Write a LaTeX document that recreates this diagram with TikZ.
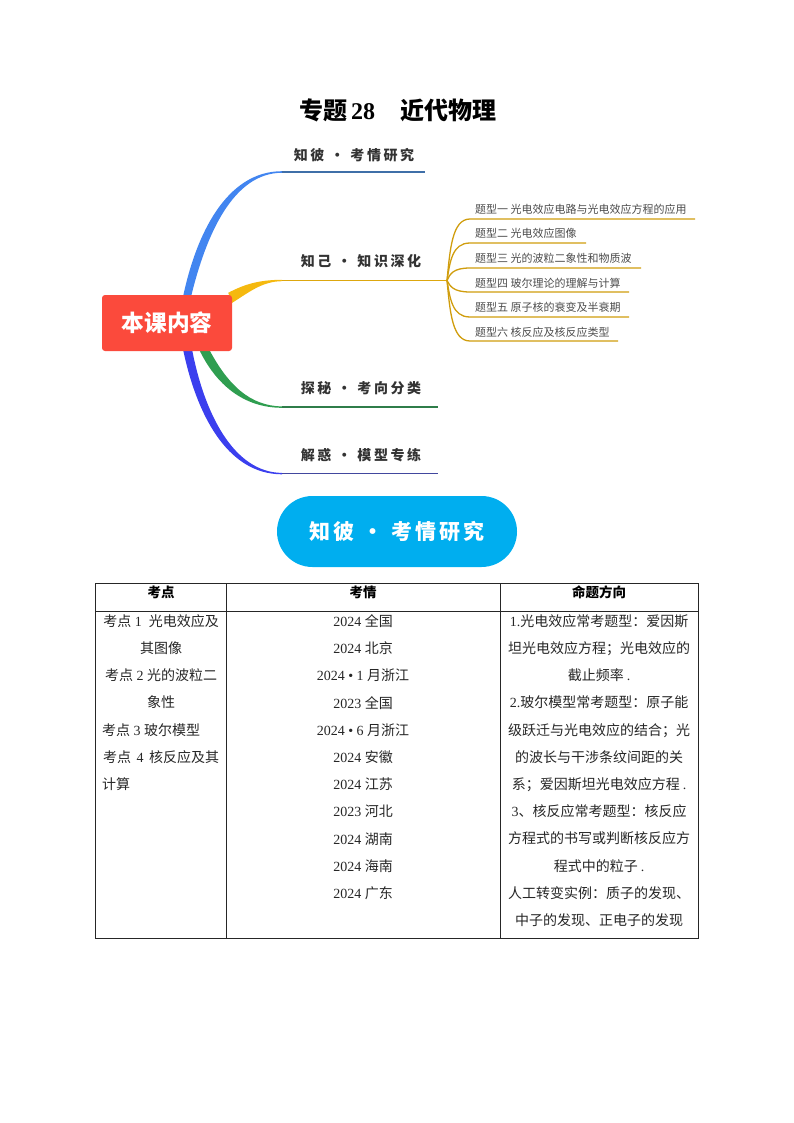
\documentclass[tikz,border=0pt]{standalone}
\usepackage{fontspec}
\setmainfont{Noto Sans CJK SC}
\newfontfamily\latinfont{Liberation Serif}
\newfontfamily\handfont[LetterSpace=18]{Noto Sans CJK SC}
\newfontfamily\pillfont[LetterSpace=14]{Noto Sans CJK SC}
\usetikzlibrary{positioning, backgrounds, calc}
\definecolor{rootred}{HTML}{FB4A3C}
\definecolor{pillblue}{HTML}{00AEEF}
\definecolor{mapblue}{HTML}{4285F0}
\definecolor{lineblue}{HTML}{3F6FA8}
\definecolor{mapyellow}{HTML}{F5B90F}
\definecolor{mapgreen}{HTML}{2F9E50}
\definecolor{linegreen}{HTML}{2F7D4A}
\definecolor{mapindigo}{HTML}{3B3FEE}
\definecolor{lineindigo}{HTML}{42479E}
\newcommand{\shu}[1]{{\latinfont #1}}
\newcommand{\gap}{\hspace{3.5pt}}
\tikzset{
  rootbox/.style={
    fill=rootred,
    rounded corners=3pt,
    minimum width=130pt,
    minimum height=56pt,
    inner sep=0pt,
    text=white,
    font=\fontsize{22.7}{26}\selectfont\bfseries
  },
  branchlabel/.style={
    inner sep=0pt,
    text=black!80,
    font=\fontsize{14}{16}\selectfont\handfont\bfseries
  },
  sublabel/.style={
    anchor=west,
    inner sep=0pt,
    text=black!70,
    font=\fontsize{11}{13}\selectfont
  },
  subline/.style={
    draw=mapyellow!85!black,
    line width=1.3pt
  },
  cellhead/.style={
    anchor=center,
    inner sep=0pt,
    font=\fontsize{13.5}{16}\selectfont\bfseries
  },
  cellbody/.style={
    anchor=north,
    inner sep=0pt,
    align=center,
    text=black!85,
    font=\fontsize{14}{27.2}\selectfont
  }
}
\begin{document}
\begin{tikzpicture}[x=1pt, y=-1pt]
    \useasboundingbox (0,0) rectangle (794,1123);
    \node[inner sep=0pt, font=\fontsize{24}{28}\selectfont\bfseries] (title) at (397.5,110) {专题\hspace{4pt}\shu{28}\hspace{25pt}近代物理};

    \node[rootbox] (root) at (167,323) {本课内容};

    % four main branches
    \coordinate (blueend) at (425,172);
    \coordinate (hub) at (447,280.5);
    \coordinate (greenend) at (438,407);
    \coordinate (indigoend) at (438,473.5);
    \begin{scope}[on background layer]
    \fill[mapblue] ($(root.north)+(16,2)$) .. controls (196,235) and (226,171.2) .. (282,171.2) -- (282,172.8) .. controls (233,172.8) and (206,235) .. ($(root.north)+(24,2)$) -- cycle;
    \draw[lineblue, line width=1.1pt] (282,172) -- (blueend);
    \fill[mapyellow] ($(root.north east)+(-4,-2)$) .. controls (243,285) and (258,279.8) .. (282,279.8) -- (282,281.2) .. controls (262,281.2) and (248,293) .. ($(root.north east)+(0,8)$) -- cycle;
    \draw[mapyellow!90!black, line width=1.2pt] (282,280.5) -- (hub);
    \fill[mapgreen] ($(root.south)+(32,-2)$) .. controls (216,385) and (244,407.8) .. (282,407.8) -- (282,406.4) .. controls (250,406) and (228,385) .. ($(root.south)+(42,-2)$) -- cycle;
    \draw[linegreen, line width=1.1pt] (282,407) -- (greenend);
    \fill[mapindigo] ($(root.south)+(16,-2)$) .. controls (196,412) and (226,474.3) .. (282,474.3) -- (282,472.9) .. controls (233,472.5) and (204,412) .. ($(root.south)+(25,-2)$) -- cycle;
    \draw[lineindigo, line width=1.1pt] (282,473.5) -- (indigoend);
    \end{scope}

    \node[branchlabel] (zhibi) at (354,155) {知彼\hspace{6pt}·\hspace{6pt}考情研究};
    \node[branchlabel] (zhiji) at (361,261) {知己\hspace{6pt}·\hspace{6pt}知识深化};
    \node[branchlabel] (tanmi) at (361,388) {探秘\hspace{6pt}·\hspace{6pt}考向分类};
    \node[branchlabel] (jiehuo) at (361,455) {解惑\hspace{6pt}·\hspace{6pt}模型专练};

    % six question types
    \node[sublabel] (type1) at (475,209) {题型一 光电效应电路与光电效应方程的应用};
    \node[sublabel] (type2) at (475,233.5) {题型二 光电效应图像};
    \node[sublabel] (type3) at (475,258) {题型三 光的波粒二象性和物质波};
    \node[sublabel] (type4) at (475,283) {题型四 玻尔理论的理解与计算};
    \node[sublabel] (type5) at (475,307.5) {题型五 原子核的衰变及半衰期};
    \node[sublabel] (type6) at (475,332) {题型六 核反应及核反应类型};
    \coordinate (end1) at (695,219);
    \coordinate (end2) at (586,243);
    \coordinate (end3) at (641,268);
    \coordinate (end4) at (629,292);
    \coordinate (end5) at (629,317);
    \coordinate (end6) at (618,341);
    \draw[subline] (hub) .. controls (450,250) and (452,219) .. (470,219) -- (end1);
    \draw[subline] (hub) .. controls (450,262) and (452,243) .. (470,243) -- (end2);
    \draw[subline] (hub) .. controls (450,274) and (453,268) .. (470,268) -- (end3);
    \draw[subline] (hub) .. controls (450,286) and (453,292) .. (470,292) -- (end4);
    \draw[subline] (hub) .. controls (450,298) and (452,317) .. (470,317) -- (end5);
    \draw[subline] (hub) .. controls (450,311) and (452,341) .. (470,341) -- (end6);

    \node[fill=pillblue, rounded corners=35.5pt, minimum width=240pt, minimum height=71pt, inner sep=0pt, text=white, font=\fontsize{21}{24}\selectfont\pillfont\bfseries] (pill) at (397,531.5) {知彼\hspace{8pt}·\hspace{8pt}考情研究};

    % table
    \draw[black!85, line width=0.8pt] (95,583) rectangle (698,938);
    \draw[black!85, line width=0.8pt] (95,611) -- (698,611);
    \draw[black!85, line width=0.8pt] (226,583) -- (226,938);
    \draw[black!85, line width=0.8pt] (500,583) -- (500,938);
    \node[cellhead] (headone) at (161,592) {考点};
    \node[cellhead] (headtwo) at (363,592) {考情};
    \node[cellhead] (headthree) at (599,592) {命题方向};
    \node[cellbody, text width=118pt] (points) at (161,614.3) {考点\gap{}\shu{1}\hspace{7pt}光电效应及\\其图像\\考点\gap{}\shu{2}\gap{}光的波粒二\\象性\\考点\gap{}\shu{3}\gap{}玻尔模型\hfill\null\\考点\hspace{5.5pt}\shu{4}\hspace{5.5pt}核反应及其\\计算\hfill\null};
    \node[cellbody] (exams) at (363,614.3) {\shu{2024}\gap{}全国\\\shu{2024}\gap{}北京\\\shu{2024}\gap{}\shu{•}\gap{}\shu{1}\gap{}月浙江\\\shu{2023}\gap{}全国\\\shu{2024}\gap{}\shu{•}\gap{}\shu{6}\gap{}月浙江\\\shu{2024}\gap{}安徽\\\shu{2024}\gap{}江苏\\\shu{2023}\gap{}河北\\\shu{2024}\gap{}湖南\\\shu{2024}\gap{}海南\\\shu{2024}\gap{}广东};
    \node[cellbody] (trends) at (599,614.3) {\shu{1.}光电效应常考题型：爱因斯\\坦光电效应方程；光电效应的\\截止频率\hspace{3pt}\shu{.}\\\shu{2.}玻尔模型常考题型：原子能\\级跃迁与光电效应的结合；光\\的波长与干涉条纹间距的关\\系；爱因斯坦光电效应方程\hspace{3pt}\shu{.}\\\shu{3}、核反应常考题型：核反应\\方程式的书写或判断核反应方\\程式中的粒子\hspace{3pt}\shu{.}\\人工转变实例：质子的发现、\\中子的发现、正电子的发现};
\end{tikzpicture}
\end{document}
